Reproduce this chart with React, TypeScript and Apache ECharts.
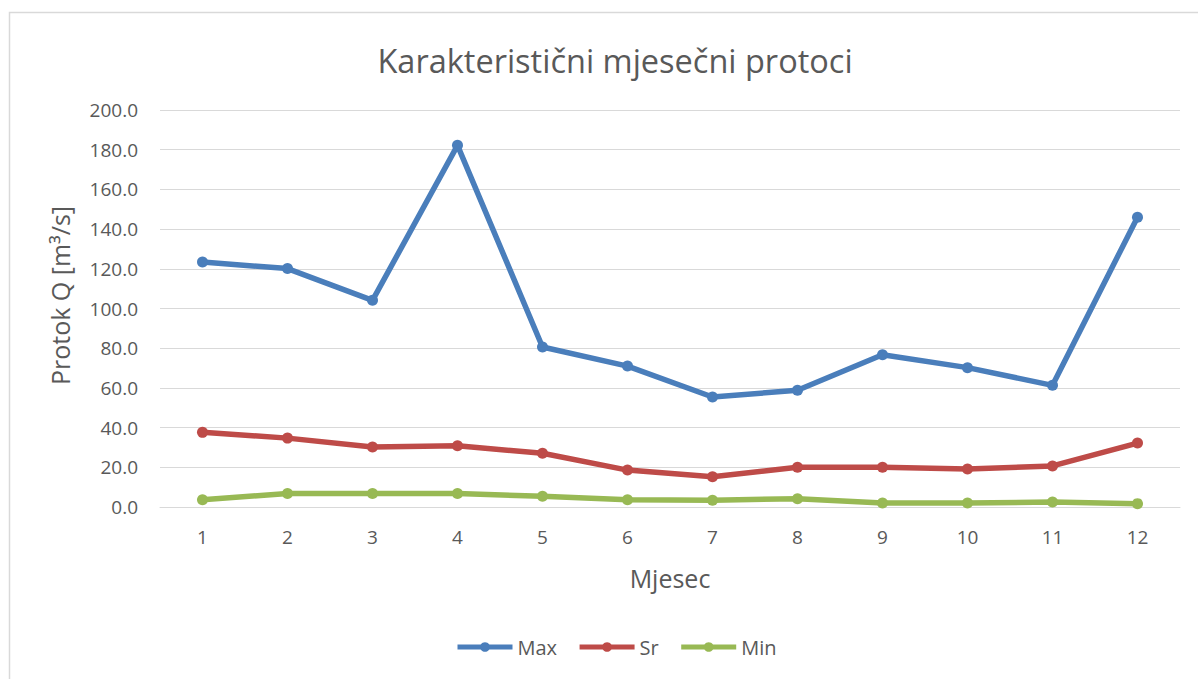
import React, { useEffect, useRef } from "react";
import * as echarts from "echarts";

const months = ["1", "2", "3", "4", "5", "6", "7", "8", "9", "10", "11", "12"];
const maxValues = [123.4, 120.1, 104.1, 182.2, 80.6, 71.0, 55.4, 58.8, 76.7, 70.2, 61.3, 146.0];
const srValues = [37.6, 34.7, 30.2, 30.8, 27.1, 18.6, 15.2, 20.0, 20.0, 19.1, 20.7, 32.2];
const minValues = [3.7, 6.8, 6.8, 6.8, 5.4, 3.7, 3.4, 4.2, 2.0, 2.0, 2.5, 1.7];

const FONT = "'Open Sans', 'Noto Sans', sans-serif";
const TXT = "#595959";

export default function App() {
  const ref = useRef<HTMLDivElement>(null);
  useEffect(() => {
    if (!ref.current) return;
    const chart = echarts.init(ref.current, null, { renderer: "svg" });
    const mk = (name: string, data: number[], color: string) => ({
      name,
      type: "line",
      data,
      symbol: "circle",
      symbolSize: 11,
      lineStyle: { width: 5.5, color },
      itemStyle: { color },
      emphasis: { disabled: true },
    });
    chart.setOption({
      animation: false,
      backgroundColor: "#ffffff",
      textStyle: { fontFamily: FONT },
      title: {
        text: "Karakteristični mjesečni protoci",
        left: 610,
        textAlign: "center",
        top: 39,
        textStyle: { fontFamily: FONT, fontSize: 32.5, fontWeight: "normal", color: TXT },
      },
      graphic: [
        {
          type: "rect",
          shape: { x: 9.5, y: 12.5, width: 1300, height: 800 },
          style: { fill: "none", stroke: "#d9d9d9", lineWidth: 1.5 },
          silent: true,
          z: -1,
        },
      ],
      legend: {
        bottom: 17,
        left: 450,
        itemWidth: 55,
        itemHeight: 12,
        itemGap: 20,
        lineStyle: { width: 5 },
        textStyle: { fontFamily: FONT, fontSize: 20, color: TXT },
        data: ["Max", "Sr", "Min"],
      },
      grid: { left: 160, right: 18, top: 110, bottom: 172, containLabel: false },
      xAxis: {
        type: "category",
        data: months,
        boundaryGap: true,
        name: "Mjesec",
        nameLocation: "middle",
        nameGap: 58,
        nameTextStyle: { fontFamily: FONT, fontSize: 25, color: TXT },
        axisLine: { show: true, lineStyle: { color: "#d9d9d9", width: 1 } },
        axisTick: { show: false },
        axisLabel: { margin: 20, fontFamily: FONT, fontSize: 19, color: TXT },
      },
      yAxis: {
        type: "value",
        min: 0,
        max: 200,
        interval: 20,
        name: "Protok Q [m³/s]",
        nameLocation: "middle",
        nameGap: 88,
        nameTextStyle: { fontFamily: FONT, fontSize: 25, color: TXT, padding: [0, 0, 0, 26] },
        axisLine: { show: false },
        axisTick: { show: false },
        splitLine: { lineStyle: { color: "#d9d9d9", width: 1 } },
        axisLabel: {
          margin: 22,
          fontFamily: FONT,
          fontSize: 19,
          color: TXT,
          formatter: (v: number) => v.toFixed(1),
        },
      },
      series: [
        mk("Max", maxValues, "#4a7ebb"),
        mk("Sr", srValues, "#be4b48"),
        mk("Min", minValues, "#98b954"),
      ],
    });
    return () => chart.dispose();
  }, []);
  return (
    <div
      ref={ref}
      style={{ position: "fixed", left: 0, top: 0, width: 1198, height: 679 }}
    />
  );
}
